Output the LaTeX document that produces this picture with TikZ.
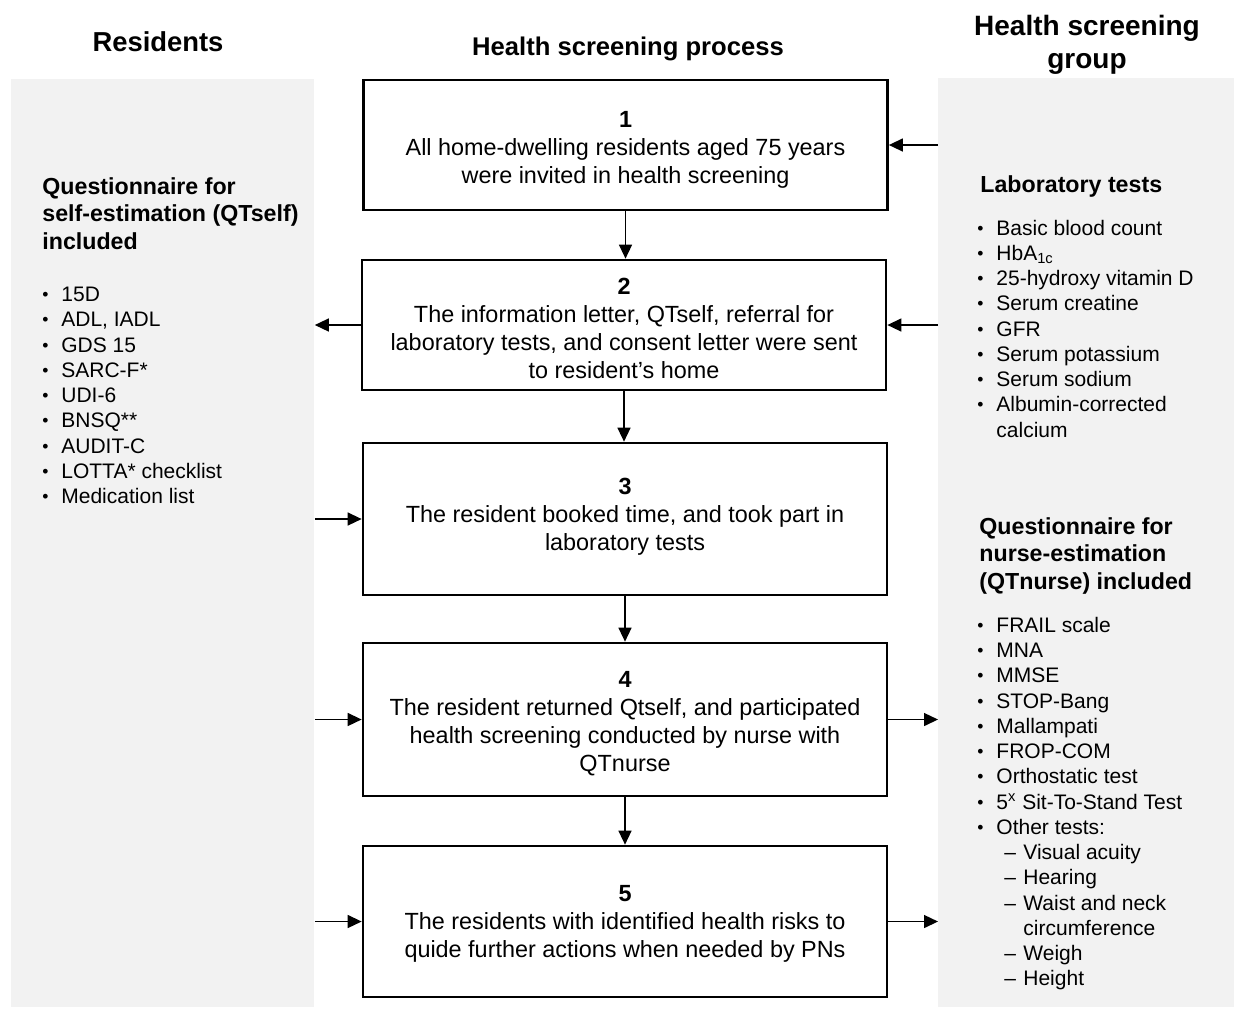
\documentclass[tikz,border=0pt]{standalone}
\usepackage{fontspec}
\setmainfont{Liberation Sans}
\usetikzlibrary{arrows.meta}
\definecolor{panel}{RGB}{242,242,242}
\newcommand{\mybul}{\makebox[9.5pt][l]{\raisebox{0.5pt}{\fontsize{8.8}{10}\selectfont\textbullet}}}
\begin{document}
\begin{tikzpicture}[x=0.5pt,y=-0.5pt,
  box/.style={draw, line width=1.35pt, minimum width=262pt, inner sep=0},
  boxtext/.style={align=center, inner sep=0, font=\fontsize{11.7}{14}\selectfont},
  arr/.style={line width=0.7pt, -{Triangle[length=7pt,width=6.5pt]}},
  li/.style={anchor=base west, inner sep=0, font=\fontsize{10.5}{12.6}\selectfont},
  hd/.style={anchor=north west, inner sep=0, align=left,
    font=\bfseries\fontsize{11.6}{13.8}\selectfont},
  panelbox/.style={fill=panel, inner sep=0, anchor=north west},
]
\useasboundingbox (0,0) rectangle (1234,1009);
% panels
\node[panelbox, minimum width=151.5pt, minimum height=464pt] (lp) at (11,79) {};
\node[panelbox, minimum width=148pt, minimum height=464.5pt] (rp) at (938,78) {};
% headers
\node[anchor=base, inner sep=0, font=\bfseries\fontsize{13.7}{16}\selectfont] (hres) at (158,51.7) {Residents};
\node[anchor=base, inner sep=0, font=\bfseries\fontsize{12.8}{15}\selectfont] (hproc) at (628,55.2) {Health screening process};
\node[anchor=north, inner sep=0, align=center, font=\bfseries\fontsize{14}{16.2}\selectfont] (hgrp) at (1087,15) {Health screening\\group};
% boxes
\node[box, minimum height=65pt] (b1) at (625.5,145) {};
\node[box, minimum height=65pt] (b2) at (624,325) {};
\node[box, minimum height=76pt] (b3) at (625,519) {};
\node[box, minimum height=76.5pt] (b4) at (625,719.5) {};
\node[box, minimum height=75.5pt] (b5) at (625,921.5) {};
\node[boxtext] (t1) at (625.5,149.5) {\textbf{1}\\All home-dwelling residents aged 75 years\\were invited in health screening};
\node[boxtext] (t2) at (624,328) {\textbf{2}\\The information letter, QTself, referral for\\laboratory tests, and consent letter were sent\\to resident’s home};
\node[boxtext] (t3) at (625,517) {\textbf{3}\\The resident booked time, and took part in\\laboratory tests};
\node[boxtext] (t4) at (625,723.5) {\textbf{4}\\The resident returned Qtself, and participated\\health screening conducted by nurse with\\QTnurse};
\node[boxtext] (t5) at (625,924) {\textbf{5}\\The residents with identified health risks to\\quide further actions when needed by PNs};
% vertical arrows
\draw[arr] (b1.south) -- (b2.north -| b1.south);
\draw[arr] (b2.south) -- (b3.north -| b2.south);
\draw[arr] (b3.south) -- (b4.north);
\draw[arr] (b4.south) -- (b5.north);
% horizontal arrows
\draw[arr] (rp.west |- b1.east) -- (b1.east);
\draw[arr] (b2.west) -- (lp.east |- b2.west);
\draw[arr] (rp.west |- b2.east) -- (b2.east);
\draw[arr] (lp.east |- b3.west) -- (b3.west);
\draw[arr] (lp.east |- b4.west) -- (b4.west);
\draw[arr] (lp.east |- b5.west) -- (b5.west);
\draw[arr] (b4.east) -- (rp.west |- b4.east);
\draw[arr] (b5.east) -- (rp.west |- b5.east);
% left panel text
\node[hd] (qself) at (42,177) {Questionnaire for\\self-estimation (QTself)\\included};
\foreach \t [count=\i] in {15D,{ADL, IADL},GDS 15,SARC-F*,UDI-6,BNSQ**,AUDIT-C,LOTTA* checklist,Medication list}
  \node[li] (ls\i) at (42,{301.7+25.25*(\i-1)}) {\mybul\t};
% right panel: lab
\node[hd] (lab) at (980,175) {Laboratory tests};
\foreach \t [count=\i] in {Basic blood count,HbA\textsubscript{1c},25-hydroxy vitamin D,Serum creatine,GFR,Serum potassium,Serum sodium,Albumin-corrected}
  \node[li] (lb\i) at (977,{235+25.25*(\i-1)}) {\mybul\t};
\node[li] (lb9) at (977,{235+25.25*8}) {\hspace{9.5pt}calcium};
% right panel: nurse
\node[hd] (qnurse) at (979,517) {Questionnaire for\\nurse-estimation\\(QTnurse) included};
\foreach \t [count=\i] in {FRAIL scale,MNA,MMSE,STOP-Bang,Mallampati,FROP-COM,Orthostatic test,5\textsuperscript{x} Sit-To-Stand Test,Other tests:}
  \node[li] (nb\i) at (977,{632.3+25.25*(\i-1)}) {\mybul\t};
\foreach \t/\k in {Visual acuity/10,Hearing/11,{Waist and neck}/12,Weigh/14,Height/15}
  \node[li] (nb\k) at (977,{632.3+25.25*(\k-1)}) {\hspace{13.5pt}\makebox[9.5pt][l]{–}\t};
\node[li] (nb13) at (977,{632.3+25.25*12}) {\hspace{23pt}circumference};
\end{tikzpicture}
\end{document}
